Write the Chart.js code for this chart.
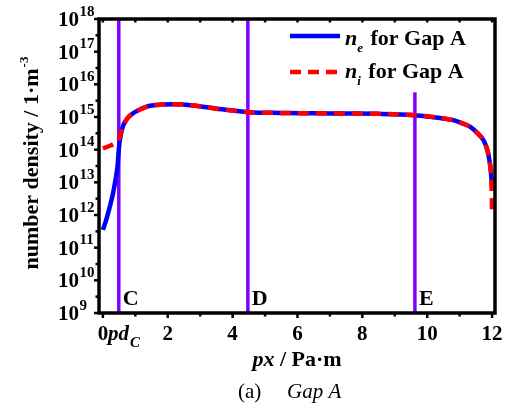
<!DOCTYPE html>
<html>
<head>
<meta charset="utf-8">
<script src="https://cdn.jsdelivr.net/npm/chart.js@4"></script>
<style>
html,body{margin:0;padding:0;background:#fff;}
canvas{display:block;}
</style>
</head>
<body>
<canvas id="c" width="508" height="410"></canvas>
<script>
// ---- data ----
const neX = [0.0, 0.1, 0.2, 0.3, 0.4, 0.45, 0.5, 0.55, 0.63, 0.75, 0.93, 1.2, 1.45, 1.8, 2.2, 2.8, 3.5, 4.5, 5.5, 6.5, 7.5, 8.5, 9.2, 9.8, 10.4, 10.8, 11.1, 11.33, 11.55, 11.74, 11.85, 11.9, 11.95, 11.98, 12.0];
const neY = [3.5e11, 7e11, 1.6e12, 4e12, 1.4e13, 3e13, 1.3e14, 2.8e14, 5.6e14, 9e14, 1.3e15, 1.8e15, 2.2e15, 2.4e15, 2.45e15, 2.25e15, 1.8e15, 1.4e15, 1.33e15, 1.3e15, 1.28e15, 1.25e15, 1.2e15, 1.1e15, 9.3e14, 8e14, 6.3e14, 5e14, 3.2e14, 1.9e14, 1e14, 6e13, 2.8e13, 1.3e13, 7e12];
const niX = [0.0, 0.2, 0.4, 0.5, 0.6, 0.75, 0.93, 1.2, 1.45, 1.8, 2.2, 2.8, 3.5, 4.5, 5.5, 6.5, 7.5, 8.5, 9.2, 9.8, 10.4, 10.8, 11.1, 11.33, 11.55, 11.74, 11.85, 11.9, 11.95, 11.98, 12.0];
const niY = [1.1e14, 1.3e14, 1.65e14, 2.2e14, 4.5e14, 9e14, 1.3e15, 1.8e15, 2.2e15, 2.4e15, 2.45e15, 2.25e15, 1.8e15, 1.4e15, 1.33e15, 1.3e15, 1.28e15, 1.25e15, 1.2e15, 1.1e15, 9.3e14, 8e14, 6.3e14, 5e14, 3.2e14, 1.9e14, 1e14, 6e13, 2.8e13, 1.3e13, 1.3e12];
const markerX = [0.49, 4.47, 9.62];
const markerTop = [1e18, 1e18, 5.7e15];
const markerLabels = ['C', 'D', 'E'];
const xTickVals = [0, 2, 4, 6, 8, 10, 12];
const xTickLabels = ['0', '2', '4', '6', '8', '10', '12'];
const yTickExps = [9, 10, 11, 12, 13, 14, 15, 16, 17, 18];
const seriesNames = ['e', 'i'];

const BLUE = '#0000ff', RED = '#ff0000', PURPLE = '#8000ff';
const SERIF = '"Liberation Serif", "DejaVu Serif", serif';

function pts(xs, ys){ return xs.map((x,i)=>({x:x, y:ys[i]})); }

const markerSets = markerX.map((mx,i)=>({
  data: [{x:mx, y:1e9}, {x:mx, y:markerTop[i]}],
  borderColor: PURPLE, borderWidth: 3.5, pointRadius: 0, order: 3, tension: 0
}));

function drawRuns(ctx, x, y, runs, align){
  let w = 0;
  runs.forEach(r=>{ ctx.font = r.font; w += ctx.measureText(r.text).width + (r.gap||0); });
  let cx = align==='right' ? x - w : align==='center' ? x - w/2 : x;
  ctx.textAlign = 'left';
  ctx.textBaseline = 'alphabetic';
  runs.forEach(r=>{
    ctx.font = r.font;
    ctx.fillText(r.text, cx + (r.gap||0), y + (r.dy||0));
    cx += ctx.measureText(r.text).width + (r.gap||0);
  });
  return w;
}

const decor = {
  id: 'decor',
  afterDatasetsDraw(chart){
    const ctx = chart.ctx, a = chart.chartArea;
    const xs = chart.scales.x, ys = chart.scales.y;
    ctx.save();
    ctx.fillStyle = '#000';
    ctx.strokeStyle = '#000';
    // frame
    ctx.lineWidth = 3.5;
    ctx.beginPath();
    ctx.moveTo(a.left, a.top); ctx.lineTo(a.right, a.top); ctx.lineTo(a.right, a.bottom);
    ctx.lineTo(a.left, a.bottom); ctx.closePath();
    ctx.stroke();
    // y ticks
    ctx.lineWidth = 2.5;
    yTickExps.forEach(e=>{
      const y = ys.getPixelForValue(Math.pow(10,e));
      ctx.beginPath(); ctx.moveTo(a.left-5, y); ctx.lineTo(a.left, y); ctx.stroke();
      if (e < 18){
        const ym = ys.getPixelForValue(Math.pow(10,e+0.5));
        ctx.beginPath(); ctx.moveTo(a.left-3.5, ym); ctx.lineTo(a.left, ym); ctx.stroke();
      }
      drawRuns(ctx, 79, y+7, [{text:'10', font:'bold 21px '+SERIF}], 'right');
      drawRuns(ctx, 79.5, y-3.5, [{text:String(e), font:'bold 15px '+SERIF}], 'left');
    });
    // x ticks
    for (let v=0; v<=12; v++){
      const x = xs.getPixelForValue(v);
      const major = v%2===0;
      ctx.beginPath(); ctx.moveTo(x, a.bottom); ctx.lineTo(x, a.bottom + (major?5:3.5)); ctx.stroke();
      ctx.beginPath(); ctx.moveTo(x, a.top); ctx.lineTo(x, a.top + 3.5); ctx.stroke();
    }
    xTickVals.forEach((v,i)=>{
      const x = xs.getPixelForValue(v);
      drawRuns(ctx, x, 340, [{text:xTickLabels[i], font:'bold 21px '+SERIF}], 'center');
    });
    // pd_C label
    drawRuns(ctx, xs.getPixelForValue(0)+5, 340, [
      {text:'pd', font:'italic bold 21px '+SERIF},
      {text:'C', font:'italic bold 15px '+SERIF, dy:7, gap:1}
    ], 'left');
    // marker letters
    markerX.forEach((mx,i)=>{
      const x = xs.getPixelForValue(mx);
      drawRuns(ctx, x+4, a.bottom-8, [{text:markerLabels[i], font:'bold 22px '+SERIF}], 'left');
    });
    // legend
    const lx0 = 290, lx1 = 340;
    ctx.lineWidth = 4.5;
    ctx.strokeStyle = BLUE;
    ctx.beginPath(); ctx.moveTo(lx0, 36); ctx.lineTo(lx1, 36); ctx.stroke();
    ctx.strokeStyle = RED;
    ctx.setLineDash([11,7]);
    ctx.beginPath(); ctx.moveTo(lx0, 72); ctx.lineTo(lx1, 72); ctx.stroke();
    ctx.setLineDash([]);
    ctx.fillStyle = '#000';
    [[45, seriesNames[0]], [78, seriesNames[1]]].forEach(([by, s])=>{
      drawRuns(ctx, 345, by, [
        {text:'n', font:'italic bold 22px '+SERIF},
        {text:s, font:'italic bold 13px '+SERIF, dy:7},
        {text:' for Gap A', font:'bold 22px '+SERIF, gap:2}
      ], 'left');
    });
    // x title
    drawRuns(ctx, 297, 366, [
      {text:'px', font:'italic bold 22px '+SERIF},
      {text:' / Pa\u00b7m', font:'bold 22px '+SERIF}
    ], 'center');
    // caption
    drawRuns(ctx, 238, 398, [{text:'(a)', font:'21px '+SERIF}], 'left');
    drawRuns(ctx, 287, 398, [{text:'Gap A', font:'italic 21px '+SERIF}], 'left');
    // y title
    ctx.save();
    ctx.translate(38, 163);
    ctx.rotate(-Math.PI/2);
    drawRuns(ctx, 0, 0, [
      {text:'number density / 1\u00b7m', font:'bold 22px '+SERIF},
      {text:'-3', font:'bold 13px '+SERIF, dy:-10, gap:1}
    ], 'center');
    ctx.restore();
    ctx.restore();
  }
};

new Chart(document.getElementById('c'), {
  type: 'line',
  data: {
    datasets: [
      { data: pts(niX, niY), borderColor: RED, borderWidth: 4.5, borderDash: [11,7], pointRadius: 0, cubicInterpolationMode: 'monotone', order: 1 },
      { data: pts(neX, neY), borderColor: BLUE, borderWidth: 4.5, pointRadius: 0, cubicInterpolationMode: 'monotone', order: 2 },
      ...markerSets
    ]
  },
  options: {
    responsive: false,
    animation: false,
    devicePixelRatio: 1,
    layout: { padding: { left: 99, right: 13, top: 19, bottom: 97 } },
    scales: {
      x: { type: 'linear', min: -0.12, max: 12.09, display: false },
      y: { type: 'logarithmic', min: 1e9, max: 1e18, display: false }
    },
    plugins: { legend: { display: false }, tooltip: { enabled: false } }
  },
  plugins: [decor]
});
</script>
</body>
</html>
